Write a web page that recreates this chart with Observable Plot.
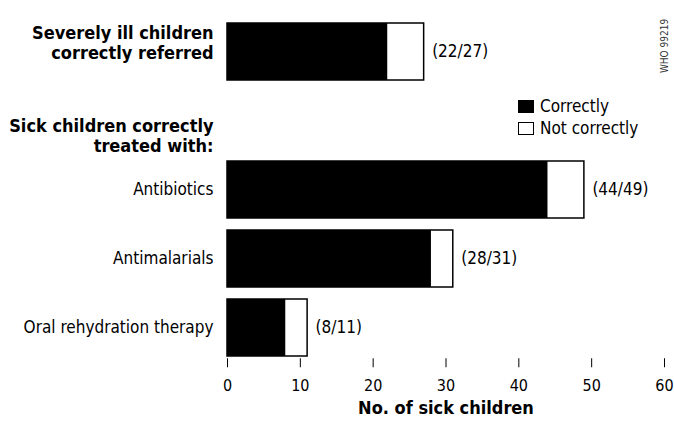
<!DOCTYPE html>
<html>
<head>
<meta charset="utf-8">
<script src="https://cdn.jsdelivr.net/npm/d3@7"></script>
<script src="https://cdn.jsdelivr.net/npm/@observablehq/plot@0.6"></script>
<style>
  html, body { margin: 0; padding: 0; background: #fff; }
  #wrap { position: relative; width: 674px; height: 423px; font-family: "DejaVu Sans Condensed", "Liberation Sans Narrow", sans-serif; }
  #legend { position: absolute; left: 518px; top: 95px; font-size: 17px; line-height: 22px; color: #000; }
  .row { display: flex; align-items: center; height: 22px; }
  .sw { width: 16px; height: 13px; border: 1px solid #000; margin-right: 6px; box-sizing: border-box; }
  #wm { position: absolute; left: 630px; top: 40px; width: 70px; height: 12px; line-height: 12px; text-align: center; font-size: 10px; color: #333; transform: rotate(-90deg); transform-origin: 35px 6px; white-space: nowrap; }
</style>
</head>
<body>
<div id="wrap"></div>
<script>
const keys = ["severe", "header", "antibiotics", "antimalarials", "ort"];
const barKeys = ["severe", "antibiotics", "antimalarials", "ort"];
const barLabels = ["Severely ill children\ncorrectly referred", "Antibiotics", "Antimalarials", "Oral rehydration therapy"];
const correct = [22, 44, 28, 8];
const total = [27, 49, 31, 11];
const headerText = "Sick children correctly\ntreated with:";
const xTicks = [0, 10, 20, 30, 40, 50, 60];
const xLabel = "No. of sick children";
const legendLabels = ["Correctly", "Not correctly"];
const watermark = "WHO 99219";

const rows = barKeys.map((k, i) => ({key: k, label: barLabels[i], correct: correct[i], total: total[i], frac: `(${correct[i]}/${total[i]})`}));

const font = '"DejaVu Sans Condensed", "Liberation Sans Narrow", sans-serif';

const chart = Plot.plot({
  width: 674,
  height: 423,
  marginLeft: 227,
  marginRight: 10,
  marginTop: 15.75,
  marginBottom: 59.75,
  style: {fontFamily: font, fontSize: "17px", color: "#000", background: "#fff"},
  x: {domain: [0, 60]},
  y: {domain: keys, paddingInner: 0.18, paddingOuter: 0.09, axis: null},
  marks: [
    Plot.barX(rows, {y: "key", x1: 0, x2: "total", fill: "#fff", stroke: "#000", strokeWidth: 1.5}),
    Plot.barX(rows, {y: "key", x1: 0, x2: "correct", fill: "#000"}),
    Plot.text(rows, {y: "key", x: "total", text: "frac", dx: 8, textAnchor: "start", fontSize: 17}),
    Plot.text(rows.slice(1), {y: "key", text: "label", frameAnchor: "left", dx: -14, textAnchor: "end", fontSize: 17}),
    Plot.text(rows.slice(0, 1), {y: "key", text: "label", frameAnchor: "left", dx: -14, dy: -9, textAnchor: "end", fontSize: 18, fontWeight: "bold", lineHeight: 1.1}),
    Plot.text([headerText], {y: () => "header", text: d => d, frameAnchor: "left", dx: -14, dy: 15, textAnchor: "end", fontSize: 18, fontWeight: "bold", lineHeight: 1.1}),
    Plot.axisX({ticks: xTicks, tickSize: 9, dy: -5, tickPadding: 12, label: null, fontSize: 16}),
    Plot.text([xLabel], {text: d => d, frameAnchor: "bottom", dy: 50, fontSize: 18, fontWeight: "bold"})
  ]
});

const wrap = document.getElementById("wrap");
wrap.appendChild(chart);

const legend = document.createElement("div");
legend.id = "legend";
legendLabels.forEach((lab, i) => {
  const row = document.createElement("div");
  row.className = "row";
  const sw = document.createElement("div");
  sw.className = "sw";
  sw.style.background = i === 0 ? "#000" : "#fff";
  row.appendChild(sw);
  const t = document.createElement("span");
  t.textContent = lab;
  row.appendChild(t);
  legend.appendChild(row);
});
wrap.appendChild(legend);

const wm = document.createElement("div");
wm.id = "wm";
wm.textContent = watermark;
wrap.appendChild(wm);
</script>
</body>
</html>
